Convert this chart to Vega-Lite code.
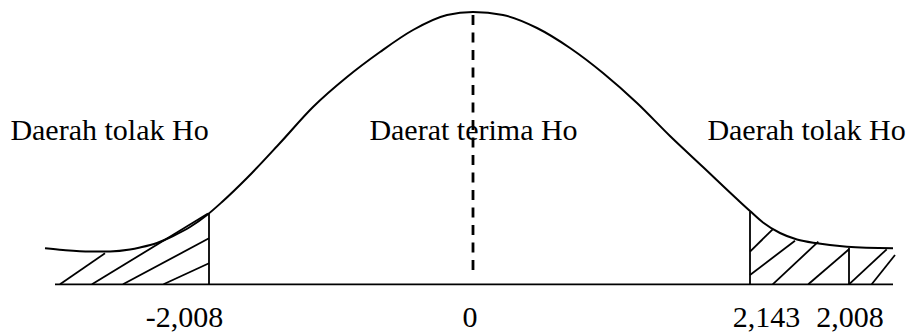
{
  "$schema": "https://vega.github.io/schema/vega-lite/v6.json",
  "width": 909,
  "height": 333,
  "autosize": {"type": "fit", "contains": "padding"},
  "padding": 0,
  "background": "white",
  "config": {"view": {"stroke": null}},
  "datasets": {
    "curve": [
      {"pos": 45, "h": 84.7}, {"pos": 63, "h": 83}, {"pos": 90, "h": 81.5}, {"pos": 110, "h": 81.6},
      {"pos": 130, "h": 83.5}, {"pos": 140, "h": 85.5}, {"pos": 157, "h": 90}, {"pos": 173, "h": 97},
      {"pos": 190, "h": 106}, {"pos": 207, "h": 118}, {"pos": 222, "h": 131}, {"pos": 247, "h": 155},
      {"pos": 280, "h": 190}, {"pos": 313, "h": 226}, {"pos": 347, "h": 256}, {"pos": 380, "h": 281},
      {"pos": 413, "h": 303}, {"pos": 447, "h": 318}, {"pos": 473, "h": 321}, {"pos": 503, "h": 318},
      {"pos": 537, "h": 305}, {"pos": 570, "h": 285}, {"pos": 603, "h": 260}, {"pos": 637, "h": 230},
      {"pos": 670, "h": 197}, {"pos": 703, "h": 166}, {"pos": 738, "h": 133}, {"pos": 750, "h": 122},
      {"pos": 763, "h": 110.5}, {"pos": 780, "h": 100}, {"pos": 797, "h": 93.5}, {"pos": 817, "h": 89.7},
      {"pos": 847, "h": 86.3}, {"pos": 893, "h": 84.7}
    ],
    "segments": [
      {"part": "baseline", "pos": 55, "h": 48.7, "pos2": 893, "h2": 48.7},
      {"part": "bound", "pos": 209, "h": 48.7, "pos2": 209, "h2": 119.7},
      {"part": "bound", "pos": 750, "h": 48.7, "pos2": 750, "h2": 121.5},
      {"part": "bound", "pos": 849, "h": 48.7, "pos2": 849, "h2": 85},
      {"part": "hatch", "pos": 60, "h": 48.7, "pos2": 105, "h2": 79.7},
      {"part": "hatch", "pos": 92, "h": 48.7, "pos2": 208, "h2": 119.5},
      {"part": "hatch", "pos": 123, "h": 48.7, "pos2": 209, "h2": 94.7},
      {"part": "hatch", "pos": 163.5, "h": 48.7, "pos2": 209, "h2": 69.7},
      {"part": "hatch", "pos": 750, "h": 81.3, "pos2": 772.7, "h2": 103.7},
      {"part": "hatch", "pos": 750, "h": 58, "pos2": 795, "h2": 92.3},
      {"part": "hatch", "pos": 772.7, "h": 48.7, "pos2": 818.3, "h2": 91.3},
      {"part": "hatch", "pos": 808.3, "h": 48.7, "pos2": 849, "h2": 83.7},
      {"part": "hatch", "pos": 849, "h": 48.7, "pos2": 886.7, "h2": 83.7},
      {"part": "hatch", "pos": 871.7, "h": 48.7, "pos2": 895, "h2": 78}
    ],
    "mean": [{"pos": 473, "h": 62, "h2": 318}],
    "regions": [
      {"pos": 109.5, "h": 193, "label": "Daerah tolak Ho"},
      {"pos": 473.5, "h": 193, "label": "Daerat terima Ho"},
      {"pos": 806.5, "h": 193, "label": "Daerah tolak Ho"}
    ],
    "ticks": [
      {"pos": 184.5, "h": 6, "label": "-2,008"},
      {"pos": 470, "h": 6, "label": "0"},
      {"pos": 766.5, "h": 6, "label": "2,143"},
      {"pos": 850, "h": 6, "label": "2,008"}
    ]
  },
  "layer": [
    {
      "data": {"name": "segments"},
      "mark": {"type": "rule", "color": "black", "strokeWidth": 1.8},
      "encoding": {
        "x": {"field": "pos", "type": "quantitative", "scale": {"domain": [0, 909], "nice": false, "zero": false}, "axis": null},
        "y": {"field": "h", "type": "quantitative", "scale": {"domain": [0, 333], "nice": false, "zero": false}, "axis": null},
        "x2": {"field": "pos2"},
        "y2": {"field": "h2"}
      }
    },
    {
      "data": {"name": "curve"},
      "mark": {"type": "line", "color": "black", "strokeWidth": 2, "interpolate": "monotone"},
      "encoding": {
        "x": {"field": "pos", "type": "quantitative", "scale": {"domain": [0, 909], "nice": false, "zero": false}, "axis": null},
        "y": {"field": "h", "type": "quantitative", "scale": {"domain": [0, 333], "nice": false, "zero": false}, "axis": null}
      }
    },
    {
      "data": {"name": "mean"},
      "mark": {"type": "rule", "color": "black", "strokeWidth": 2.8, "strokeDash": [10, 7.5]},
      "encoding": {
        "x": {"field": "pos", "type": "quantitative", "scale": {"domain": [0, 909], "nice": false, "zero": false}, "axis": null},
        "y": {"field": "h2", "type": "quantitative", "scale": {"domain": [0, 333], "nice": false, "zero": false}, "axis": null},
        "y2": {"field": "h"}
      }
    },
    {
      "data": {"name": "regions"},
      "mark": {"type": "text", "font": "Liberation Serif", "fontSize": 30, "color": "black", "align": "center", "baseline": "alphabetic"},
      "encoding": {
        "x": {"field": "pos", "type": "quantitative", "scale": {"domain": [0, 909], "nice": false, "zero": false}, "axis": null},
        "y": {"field": "h", "type": "quantitative", "scale": {"domain": [0, 333], "nice": false, "zero": false}, "axis": null},
        "text": {"field": "label"}
      }
    },
    {
      "data": {"name": "ticks"},
      "mark": {"type": "text", "font": "Liberation Serif", "fontSize": 30, "color": "black", "align": "center", "baseline": "alphabetic"},
      "encoding": {
        "x": {"field": "pos", "type": "quantitative", "scale": {"domain": [0, 909], "nice": false, "zero": false}, "axis": null},
        "y": {"field": "h", "type": "quantitative", "scale": {"domain": [0, 333], "nice": false, "zero": false}, "axis": null},
        "text": {"field": "label"}
      }
    }
  ]
}
